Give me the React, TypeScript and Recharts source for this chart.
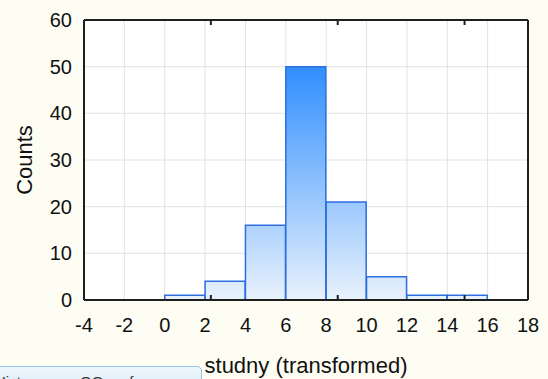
import React from 'react';
import {
  BarChart,
  Bar,
  XAxis,
  YAxis,
  CartesianGrid,
  Label,
} from 'recharts';

// Histogram bins (lower edges), bin width and counts
const binStarts = [0, 2, 4, 6, 8, 10, 12, 14];
const binWidth = 2;
const counts = [1, 4, 16, 50, 21, 5, 1, 1];

// Axis ticks
const xTicks = [-4, -2, 0, 2, 4, 6, 8, 10, 12, 14, 16, 18];
const yTicks = [0, 10, 20, 30, 40, 50, 60];

const xTitle = 'studny (transformed)';
const yTitle = 'Counts';
const tabText = 'Histogram a QQ graf pro';

const data = binStarts.map((start, i) => ({
  mid: start + binWidth / 2,
  count: counts[i],
}));

const W = 548;
const H = 379;
const FRAME = '#1f1f1f';
const FONT = '"Liberation Sans", Arial, sans-serif';

export default function App() {
  const blank = () => '';
  return (
    <div
      style={{
        position: 'fixed',
        left: 0,
        top: 0,
        width: W,
        height: H,
        overflow: 'hidden',
        background: '#fdfdf3',
        fontFamily: FONT,
      }}
    >
      <BarChart
        width={W}
        height={H}
        data={data}
        margin={{ top: 20, right: 20, bottom: 0, left: 0 }}
        barCategoryGap={0}
        barGap={0}
      >
        <defs>
          <linearGradient
            id="histFill"
            gradientUnits="userSpaceOnUse"
            x1="0"
            y1="300"
            x2="0"
            y2="20"
          >
            <stop offset="0" stopColor="#e9f2fc" />
            <stop offset="1" stopColor="#0b7bff" />
          </linearGradient>
        </defs>
        <CartesianGrid
          xAxisId="b"
          yAxisId="l"
          stroke="#e2e2e2"
          strokeWidth={1}
          fill="#ffffff"
          verticalValues={xTicks}
          horizontalValues={yTicks}
        />
        {/* bottom axis with labels */}
        <XAxis
          xAxisId="b"
          dataKey="mid"
          type="number"
          domain={[-4, 18]}
          ticks={xTicks}
          interval={0}
          orientation="bottom"
          height={79}
          tickLine={false}
          tickSize={0}
          tickMargin={18}
          axisLine={{ stroke: FRAME, strokeWidth: 2 }}
          tick={{ fill: '#111', fontSize: 20, fontFamily: FONT }}
        >
          <Label
            value={xTitle}
            position="insideBottom"
            offset={6}
            style={{ fill: '#111', fontSize: 22, fontFamily: FONT }}
          />
        </XAxis>
        {/* inward tick marks on the bottom edge */}
        <XAxis
          xAxisId="bt"
          type="number"
          domain={[-4, 18]}
          ticks={xTicks}
          interval={0}
          orientation="bottom"
          mirror
          axisLine={false}
          tickSize={5}
          tickLine={{ stroke: FRAME, strokeWidth: 2 }}
          tickFormatter={blank}
        />
        {/* top frame edge */}
        <XAxis
          xAxisId="t"
          type="number"
          domain={[-4, 18]}
          ticks={xTicks}
          interval={0}
          orientation="top"
          mirror
          axisLine={{ stroke: FRAME, strokeWidth: 2 }}
          tickSize={5}
          tickLine={{ stroke: FRAME, strokeWidth: 2 }}
          tickFormatter={blank}
        />
        {/* left axis with labels */}
        <YAxis
          yAxisId="l"
          type="number"
          domain={[0, 60]}
          ticks={yTicks}
          interval={0}
          orientation="left"
          width={84}
          tickLine={false}
          tickSize={0}
          tickMargin={12}
          axisLine={{ stroke: FRAME, strokeWidth: 2 }}
          tick={{ fill: '#111', fontSize: 20, fontFamily: FONT }}
        >
          <Label
            value={yTitle}
            angle={-90}
            position="insideLeft"
            offset={24}
            style={{ fill: '#111', fontSize: 22, fontFamily: FONT, textAnchor: 'middle' }}
          />
        </YAxis>
        {/* inward tick marks on the left edge */}
        <YAxis
          yAxisId="lt"
          type="number"
          domain={[0, 60]}
          ticks={yTicks}
          interval={0}
          orientation="left"
          mirror
          axisLine={false}
          tickSize={5}
          tickLine={{ stroke: FRAME, strokeWidth: 2 }}
          tickFormatter={blank}
        />
        {/* right frame edge */}
        <YAxis
          yAxisId="r"
          type="number"
          domain={[0, 60]}
          ticks={yTicks}
          interval={0}
          orientation="right"
          mirror
          axisLine={{ stroke: FRAME, strokeWidth: 2 }}
          tickSize={5}
          tickLine={{ stroke: FRAME, strokeWidth: 2 }}
          tickFormatter={blank}
        />
        <Bar
          xAxisId="b"
          yAxisId="l"
          dataKey="count"
          fill="url(#histFill)"
          stroke="#2d6fe0"
          strokeWidth={1.5}
          isAnimationActive={false}
        />
      </BarChart>
      <div
        style={{
          position: 'absolute',
          left: -40,
          top: 366,
          width: 242,
          height: 30,
          boxSizing: 'border-box',
          border: '1px solid #8ec8ef',
          borderRadius: 5,
          background: 'linear-gradient(#eef6fc, #d6e9f7)',
          color: '#333',
          fontSize: 15,
          fontFamily: FONT,
          paddingTop: 6,
          paddingLeft: 34,
          whiteSpace: 'nowrap',
        }}
      >
        {tabText}
      </div>
    </div>
  );
}
